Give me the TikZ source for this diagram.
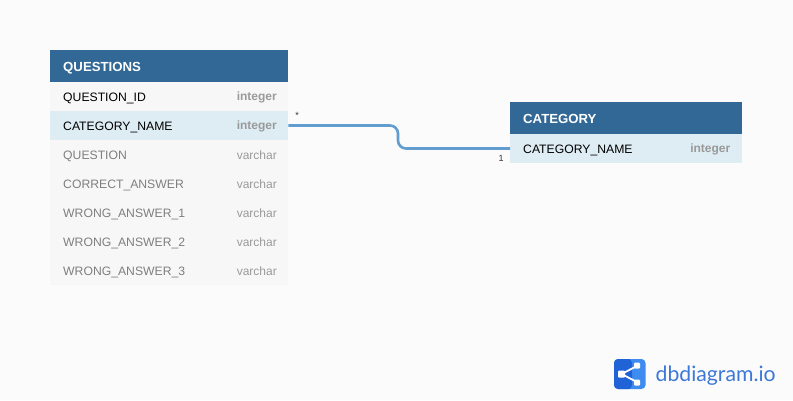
\documentclass[tikz,border=0pt]{standalone}
\usepackage{fontspec}
\setmainfont{Liberation Sans}
\newfontfamily\logofont{Lato}
\definecolor{bgc}{HTML}{FBFBFB}
\definecolor{headc}{HTML}{316896}
\definecolor{hlc}{HTML}{DEECF4}
\definecolor{rowc}{HTML}{F7F7F7}
\definecolor{linec}{HTML}{629DCF}
\definecolor{typec}{HTML}{9A9A9A}
\definecolor{mutedc}{HTML}{7F7F7F}
\definecolor{logoa}{HTML}{1F63D6}
\definecolor{logob}{HTML}{3F8CF0}
\definecolor{logot}{HTML}{3D78D8}
\usetikzlibrary{calc}
\tikzset{
  x=1pt,y=-1pt,
  base/.style={draw=none,anchor=north west,minimum height=29pt,inner xsep=13pt,inner ysep=0pt,align=left,font=\fontsize{12.2}{14}\selectfont,text height=11pt,text depth=0.5pt},
  wideq/.style={text width=212pt},
  widec/.style={text width=206pt},
  headrow/.style={base,fill=headc,text=white,minimum height=32pt,font=\fontsize{13.2}{15}\selectfont\bfseries},
  keyrow/.style={base,fill=rowc,text=black},
  hlrow/.style={base,fill=hlc,text=black},
  plainrow/.style={base,fill=rowc,text=mutedc},
  typelabel/.style={anchor=east,inner sep=0pt,text=typec,font=\fontsize{12}{14}\selectfont},
  typebold/.style={typelabel,font=\fontsize{12}{14}\selectfont\bfseries},
  cardlabel/.style={inner sep=0pt,text=black!80,font=\fontsize{9}{10}\selectfont},
  relation/.style={draw=linec,line width=2.6pt,rounded corners=8pt},
}
\begin{document}
\begin{tikzpicture}
\useasboundingbox (0,0) rectangle (793,400);
\fill[bgc] (0,0) rectangle (793,400);
% QUESTIONS
\node[headrow,wideq] (qh) at (50,50) {QUESTIONS};
\node[keyrow,wideq] (q1) at (50,82) {QUESTION\_ID};
\node[hlrow,wideq] (q2) at (50,111) {CATEGORY\_NAME};
\node[plainrow,wideq] (q3) at (50,140) {QUESTION};
\node[plainrow,wideq] (q4) at (50,169) {CORRECT\_ANSWER};
\node[plainrow,wideq] (q5) at (50,198) {WRONG\_ANSWER\_1};
\node[plainrow,wideq] (q6) at (50,227) {WRONG\_ANSWER\_2};
\node[plainrow,wideq] (q7) at (50,256) {WRONG\_ANSWER\_3};
\node[typebold] (t1) at (277,97) {integer};
\node[typebold] (t2) at (277,126) {integer};
\node[typelabel] (t3) at (277,155) {varchar};
\node[typelabel] (t4) at (277,184) {varchar};
\node[typelabel] (t5) at (277,213) {varchar};
\node[typelabel] (t6) at (277,242) {varchar};
\node[typelabel] (t7) at (277,271) {varchar};
% CATEGORY
\node[headrow,widec] (ch) at (510,102) {CATEGORY};
\node[hlrow,widec] (c1) at (510,134) {CATEGORY\_NAME};
\node[typebold] (t8) at (730.5,149) {integer};
% relation
\coordinate (bend1) at (398,125.5);
\coordinate (bend2) at (398,148.5);
\draw[relation] (q2.east|-bend1) -- (bend1) -- (bend2) -- (c1.west|-bend2);
\node[cardlabel] (many) at (297,115.5) {*};
\node[cardlabel] (one) at (501,158) {1};
% logo
\fill[logob,rounded corners=4pt] (614,359) rectangle (645.5,389);
\fill[logoa,rounded corners=4pt] (614,359) rectangle (632,389);
\fill[logoa] (626,359) rectangle (630,389);
\draw[white,line width=1.8pt] (621.5,374) -- (637,366) (621.5,374) -- (637,382);
\fill[white,rounded corners=1pt] (618,370.5) rectangle (625,377.5);
\fill[white,rounded corners=1pt] (634,362.5) rectangle (640,368.5);
\fill[white,rounded corners=1pt] (634,379.5) rectangle (640,385.5);
\node[anchor=base west,inner sep=0pt,text=logot,font=\logofont\fontsize{21.2}{24}\selectfont] (logo) at (655.5,381.5) {dbdiagram.io};
\end{tikzpicture}
\end{document}
